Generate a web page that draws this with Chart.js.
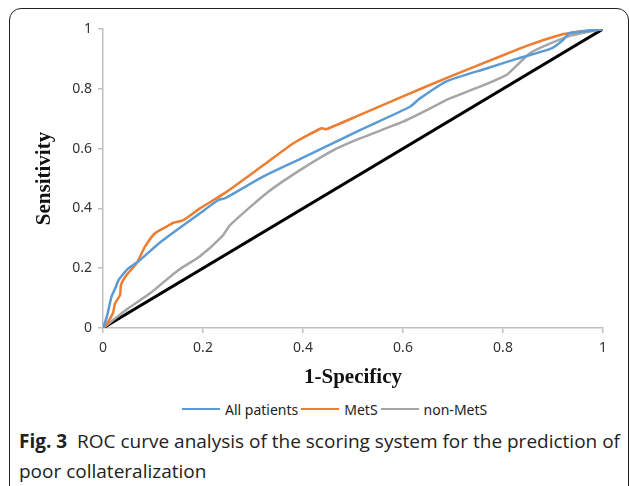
<!DOCTYPE html>
<html>
<head>
<meta charset="utf-8">
<script src="https://cdn.jsdelivr.net/npm/chart.js@4/dist/chart.umd.min.js"></script>
<style>
  html, body { margin: 0; padding: 0; background: #fff; }
  body { width: 629px; height: 486px; position: relative; overflow: hidden; }
  #frame {
    position: absolute; left: 9px; top: 8px; width: 618px; height: 500px;
    border: 1.5px solid #222; border-radius: 12px;
  }
  #wrap { position: absolute; left: 0; top: 0; width: 629px; height: 390px; }
  #legend {
    position: absolute; top: 400px; left: 182px; height: 18px;
    font: 14px "Noto Sans", sans-serif; color: #222; white-space: nowrap;
    display: flex; align-items: center;
  }
  #legend .sw { display: inline-block; width: 38px; height: 2.5px; margin: 0 5px 0 0; }
  #legend .lb { margin-right: 3px; }
  #caption {
    position: absolute; left: 19px; top: 426px; width: 608px;
    font: 19px "Open Sans", sans-serif; color: #222; line-height: 30px;
  }
  #caption b { font-weight: 700; }
</style>
</head>
<body>
<div id="frame"></div>
<div id="wrap"><canvas id="myChart" width="629" height="390"></canvas></div>
<div id="legend"></div>
<div id="caption"><b>Fig. 3</b>&nbsp; ROC curve analysis of the scoring system for the prediction of poor collateralization</div>
<script>
// ROC curves (x = 1-specificity, y = sensitivity)
const seriesNames = ["All patients", "MetS", "non-MetS"];
const seriesColors = ["#5b9bd5", "#ed7d31", "#a5a5a5"];

const allX = [0, 0.008, 0.014, 0.017, 0.025, 0.031, 0.04, 0.051, 0.071, 0.117, 0.194, 0.231, 0.244,
  0.321, 0.4, 0.514, 0.614, 0.634, 0.687, 0.767, 0.827, 0.897, 0.92, 0.933, 0.97, 1];
const allY = [0, 0.04, 0.084, 0.105, 0.135, 0.16, 0.18, 0.2, 0.223, 0.29, 0.384, 0.428, 0.434,
  0.507, 0.57, 0.662, 0.74, 0.768, 0.825, 0.868, 0.9, 0.935, 0.963, 0.986, 0.993, 1];

const metsX = [0, 0.01, 0.02, 0.024, 0.034, 0.036, 0.047, 0.067, 0.084, 0.104, 0.127, 0.141, 0.161,
  0.194, 0.244, 0.321, 0.381, 0.437, 0.447, 0.514, 0.6, 0.7, 0.794, 0.85, 0.914, 0.96, 1];
const metsY = [0, 0.02, 0.05, 0.082, 0.11, 0.144, 0.177, 0.216, 0.272, 0.317, 0.339, 0.352, 0.361,
  0.4, 0.452, 0.545, 0.618, 0.668, 0.665, 0.713, 0.775, 0.845, 0.908, 0.945, 0.98, 0.993, 1];

const nonX = [0, 0.05, 0.094, 0.151, 0.194, 0.24, 0.254, 0.327, 0.394, 0.461, 0.514, 0.6, 0.661,
  0.687, 0.754, 0.794, 0.81, 0.853, 0.881, 0.934, 1];
const nonY = [0, 0.065, 0.116, 0.194, 0.24, 0.31, 0.344, 0.451, 0.528, 0.595, 0.634, 0.69, 0.74,
  0.763, 0.807, 0.836, 0.85, 0.918, 0.942, 0.977, 1];

const refX = [0, 1];
const refY = [0, 1];

const xTicks = [0, 0.2, 0.4, 0.6, 0.8, 1];
const yTicks = [0, 0.2, 0.4, 0.6, 0.8, 1];

function pts(xs, ys) {
  return xs.map((x, i) => ({x, y: ys[i]}));
}

const seriesData = [pts(allX, allY), pts(metsX, metsY), pts(nonX, nonY)];

const datasets = seriesNames.map((name, i) => ({
  label: name,
  data: seriesData[i],
  borderColor: seriesColors[i],
  backgroundColor: seriesColors[i],
  borderWidth: 2.5,
  pointRadius: 0,
  tension: 0.2,
  showLine: true,
}));
datasets.push({
  label: "reference",
  data: pts(refX, refY),
  borderColor: "#000",
  backgroundColor: "#000",
  borderWidth: 3,
  pointRadius: 0,
  showLine: true,
});

const axisGray = "#bfbfbf";
const tickFont = {family: "Noto Sans", size: 14};
const titleFont = {family: "Liberation Serif", size: 21, weight: "bold"};

new Chart(document.querySelector("#myChart"), {
  type: "scatter",
  data: {datasets},
  options: {
    animation: false,
    responsive: false,
    layout: {padding: {top: 29, right: 26, left: 0, bottom: 0}},
    plugins: {legend: {display: false}, tooltip: {enabled: false}},
    scales: {
      x: {
        type: "linear", min: 0, max: 1,
        afterBuildTicks(scale) { scale.ticks = xTicks.map(v => ({value: v})); },
        afterFit(scale) { scale.height = 62; },
        grid: {drawOnChartArea: false, color: axisGray, tickLength: 5, lineWidth: 1.5},
        border: {color: axisGray, width: 1.5},
        ticks: {font: tickFont, color: "#333", padding: 7, maxRotation: 0, callback: v => String(v)},
        title: {display: true, text: "1-Specificy", font: titleFont, color: "#111", padding: {top: 0, bottom: 0}},
      },
      y: {
        type: "linear", min: 0, max: 1,
        afterBuildTicks(scale) { scale.ticks = yTicks.map(v => ({value: v})); },
        afterFit(scale) { scale.width = 103; },
        grid: {drawOnChartArea: false, color: axisGray, tickLength: 5, lineWidth: 1.5},
        border: {color: axisGray, width: 1.5},
        ticks: {font: tickFont, color: "#333", padding: 6, callback: v => String(v)},
        title: {display: true, text: "Sensitivity", font: titleFont, color: "#111", padding: {top: 32, bottom: 0}},
      },
    },
  },
});

// legend built from the series names / colours
const legend = document.querySelector("#legend");
seriesNames.forEach((name, i) => {
  legend.insertAdjacentHTML("beforeend",
    `<span class="sw" style="background:${seriesColors[i]}"></span><span class="lb">${name}</span>`);
});
</script>
</body>
</html>
